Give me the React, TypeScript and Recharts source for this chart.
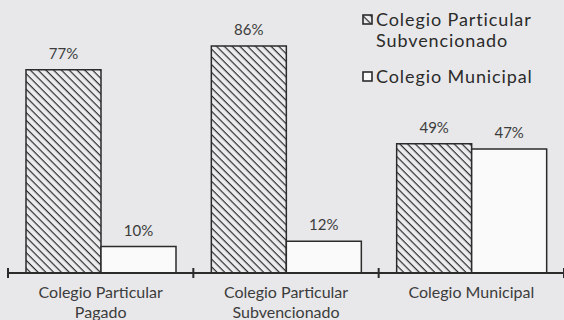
import { BarChart, Bar, XAxis, YAxis, LabelList } from "recharts";

const categories = ["Colegio Particular Pagado", "Colegio Particular Subvencionado", "Colegio Municipal"];
const tickLines = [["Colegio Particular", "Pagado"], ["Colegio Particular", "Subvencionado"], ["Colegio Municipal"]];
const subvencionado = [77, 86, 49];
const municipal = [10, 12, 47];
const seriesNames = ["Colegio Particular Subvencionado", "Colegio Municipal"];
const legendLines = [["Colegio Particular", "Subvencionado"], ["Colegio Municipal"]];

const data = categories.map((c, i) => ({ name: c, sub: subvencionado[i], mun: municipal[i] }));

const FONT = "Lato, 'Open Sans', sans-serif";
const INK = "#2b2b2b";

function CategoryTick(props: any) {
  const { x, y, payload, index } = props;
  const half = payload?.offset ?? 92.7;
  const lines = tickLines[index] || [payload.value];
  return (
    <g>
      <line x1={x - half} x2={x - half} y1={y - 5} y2={y + 5} stroke={INK} strokeWidth={2} />
      {index === categories.length - 1 && (
        <line x1={x + half} x2={x + half} y1={y - 5} y2={y + 5} stroke={INK} strokeWidth={2} />
      )}
      {lines.map((t: string, i: number) => (
        <text key={i} x={x} y={y + 25 + i * 20} textAnchor="middle" fontSize={16} fill="#3c3c3c" fontFamily={FONT}>
          {t}
        </text>
      ))}
    </g>
  );
}

function LegendBox() {
  const icon = (hatched: boolean) => (
    <svg width={11} height={11} style={{ display: "block", marginTop: 5, marginRight: 3, flex: "none" }}>
      <rect x={1} y={1} width={9} height={9} fill={hatched ? "url(#hatch)" : "#fafafa"} stroke={INK} strokeWidth={1.6} />
    </svg>
  );
  return (
    <div style={{ position: "absolute", left: 362, top: 9, fontFamily: FONT, fontSize: 18, letterSpacing: 0.9, color: INK, lineHeight: "21px", width: 200 }}>
      {legendLines.map((lines, k) => (
        <div key={k} style={{ display: "flex", alignItems: "flex-start", marginBottom: k === 0 ? 15 : 0 }}>
          {icon(k === 0)}
          <div>
            {lines.map((t, i) => (
              <div key={i} style={{ height: 21 }}>{t}</div>
            ))}
          </div>
        </div>
      ))}
    </div>
  );
}

const pct = (v: any) => `${v}%`;

export default function App() {
  return (
    <div style={{ position: "absolute", left: 0, top: 0, width: 564, height: 320, background: "#e8e8ea", overflow: "hidden" }}>
      <svg width={0} height={0} style={{ position: "absolute" }}>
        <defs>
          <pattern id="hatch" patternUnits="userSpaceOnUse" width={5.5} height={5.5} patternTransform="rotate(45)">
            <rect width={5.5} height={5.5} fill="#ececee" />
            <line x1={0} y1={0} x2={5.5} y2={0} stroke="#2a2a2a" strokeWidth={2.4} />
          </pattern>
        </defs>
      </svg>
      <BarChart
        width={564}
        height={320}
        data={data}
        margin={{ top: 9, right: 0, left: 8, bottom: 0 }}
        barCategoryGap={18}
        barGap={0}
      >
        <XAxis
          dataKey="name"
          height={47}
          tickLine={false}
          tickSize={0}
          tickMargin={0}
          axisLine={{ stroke: INK, strokeWidth: 2 }}
          tick={<CategoryTick />}
          interval={0}
        />
        <YAxis hide domain={[0, 100]} />
        <Bar dataKey="sub" name={seriesNames[0]} fill="url(#hatch)" stroke={INK} strokeWidth={1.5} isAnimationActive={false}>
          <LabelList dataKey="sub" position="top" offset={11} formatter={pct} fontSize={15} fill="#3c3c3c" fontFamily={FONT} />
        </Bar>
        <Bar dataKey="mun" name={seriesNames[1]} fill="#fafafa" stroke={INK} strokeWidth={1.5} isAnimationActive={false}>
          <LabelList dataKey="mun" position="top" offset={11} formatter={pct} fontSize={15} fill="#3c3c3c" fontFamily={FONT} />
        </Bar>
      </BarChart>
      <LegendBox />
    </div>
  );
}
